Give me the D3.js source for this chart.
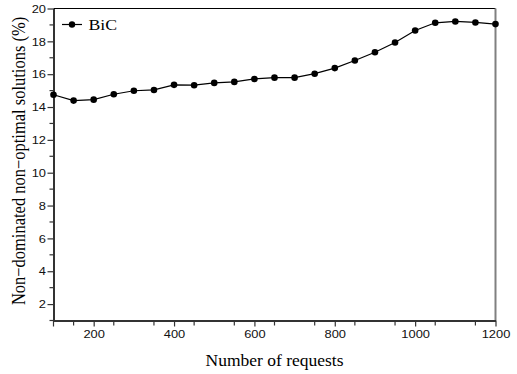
<!DOCTYPE html>
<html>
<head>
<meta charset="utf-8">
<script src="https://cdn.jsdelivr.net/npm/d3@7"></script>
<style>
  html, body { margin: 0; padding: 0; background: #fff; }
  svg { display: block; }
  .tick text { font-family: "Liberation Sans", Arial, sans-serif; font-size: 11.5px; fill: #111; }
  .title { font-family: "Liberation Serif", "Times New Roman", serif; font-size: 16.5px; fill: #000; }
  .legend { font-family: "Liberation Serif", "Times New Roman", serif; font-size: 15.6px; fill: #000; }
</style>
</head>
<body>
<svg id="chart" width="517" height="374"></svg>
<script>
// Number of requests (x) and share of non-dominated non-optimal solutions (%)
const requests = [100, 150, 200, 250, 300, 350, 400, 450, 500, 550, 600, 650,
                  700, 750, 800, 850, 900, 950, 1000, 1050, 1100, 1150, 1200];
const bicValues = [14.75, 14.39, 14.45, 14.78, 14.99, 15.04, 15.35, 15.33, 15.47, 15.53, 15.71, 15.79,
                   15.79, 16.03, 16.37, 16.83, 17.34, 17.93, 18.66, 19.13, 19.21, 19.15, 19.05];
const seriesName = "BiC";
const xTickLabels = [200, 400, 600, 800, 1000, 1200];
const yTickLabels = [2, 4, 6, 8, 10, 12, 14, 16, 18, 20];

const svg = d3.select("#chart");
const plotLeft = 53.5, plotRight = 495.5, plotTop = 8.5, plotBottom = 320.5;
const wide = 1.12;   // glyphs are drawn slightly wider than tall

const x = d3.scaleLinear().domain([100, 1200]).range([plotLeft, plotRight]);
const y = d3.scaleLinear().domain([1, 20]).range([plotBottom, plotTop]);

// frame: top edge black, right edge grey
svg.append("line").attr("x1", plotLeft).attr("x2", plotRight).attr("y1", plotTop).attr("y2", plotTop)
  .attr("stroke", "#000").attr("stroke-width", 1.2);
svg.append("line").attr("x1", plotRight).attr("x2", plotRight).attr("y1", plotTop).attr("y2", plotBottom)
  .attr("stroke", "#808080").attr("stroke-width", 2);

// minor ticks
const xMinor = d3.range(150, 1200, 100);
const yMinor = d3.range(1, 20, 2);

const xAxis = svg.append("g").attr("transform", `translate(0,${plotBottom})`)
  .call(d3.axisBottom(x).tickValues(xTickLabels).tickSize(6).tickSizeOuter(0).tickPadding(3).tickFormat(d3.format("d")));
xAxis.select(".domain").attr("stroke", "#333").attr("stroke-width", 2);
xAxis.selectAll(".tick line").attr("stroke", "#333").attr("stroke-width", 1.2);
xAxis.selectAll(".tick text").attr("transform", `scale(${wide},1)`);
svg.append("g").selectAll("line").data(xMinor).join("line")
  .attr("x1", d => x(d)).attr("x2", d => x(d)).attr("y1", plotBottom).attr("y2", plotBottom + 5)
  .attr("stroke", "#333").attr("stroke-width", 1.2);
// tick at the left end of the x axis
svg.append("line").attr("x1", plotLeft).attr("x2", plotLeft).attr("y1", plotBottom).attr("y2", plotBottom + 6)
  .attr("stroke", "#333").attr("stroke-width", 1.2);

const yAxis = svg.append("g").attr("transform", `translate(${plotLeft},0)`)
  .call(d3.axisLeft(y).tickValues(yTickLabels).tickSize(6).tickSizeOuter(0).tickPadding(1.5));
yAxis.select(".domain").attr("stroke", "#333").attr("stroke-width", 2);
yAxis.selectAll(".tick line").attr("stroke", "#333").attr("stroke-width", 1.2);
yAxis.selectAll(".tick text").attr("x", -7.5 / wide).attr("transform", `scale(${wide},1)`);
svg.append("g").selectAll("line").data(yMinor).join("line")
  .attr("x1", plotLeft - 4).attr("x2", plotLeft).attr("y1", d => y(d)).attr("y2", d => y(d))
  .attr("stroke", "#333").attr("stroke-width", 1.2);

// series line and markers
const pts = requests.map((r, i) => [r, bicValues[i]]);
svg.append("path").datum(pts)
  .attr("fill", "none").attr("stroke", "#000").attr("stroke-width", 1.2)
  .attr("d", d3.line().x(d => x(d[0])).y(d => y(d[1])));
svg.append("g").selectAll("circle").data(pts).join("circle")
  .attr("cx", d => x(d[0])).attr("cy", d => y(d[1])).attr("r", 3.3).attr("fill", "#000");

// legend
svg.append("line").attr("x1", 62).attr("x2", 82).attr("y1", 24.5).attr("y2", 24.5)
  .attr("stroke", "#000").attr("stroke-width", 1.2);
svg.append("circle").attr("cx", 72).attr("cy", 24.5).attr("r", 3.2).attr("fill", "#000");
svg.append("text").attr("class", "legend")
  .attr("transform", `translate(88.5,29.5) scale(1.14,1)`).text(seriesName);

// axis titles
svg.append("text").attr("class", "title")
  .attr("transform", `translate(274.5,366) scale(1.06,1)`)
  .attr("text-anchor", "middle").text("Number of requests");
svg.append("text").attr("class", "title")
  .attr("transform", `translate(25,161) rotate(-90) scale(1,1.12)`)
  .attr("text-anchor", "middle").text("Non\u2212dominated non\u2212optimal solutions (%)");
</script>
</body>
</html>
